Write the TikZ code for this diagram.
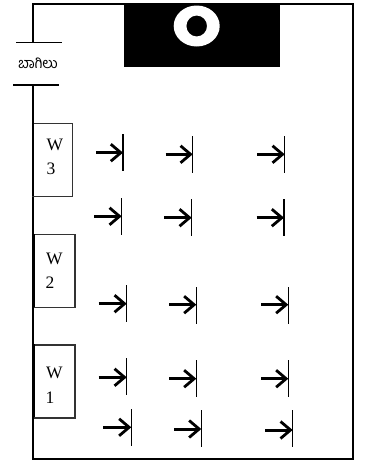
\documentclass[tikz,border=0pt]{standalone}
\usepackage{fontspec}
\setmainfont{Liberation Serif}
\newfontfamily\kannadafont[Script=Kannada]{Hind Mysuru}
\usetikzlibrary{arrows.meta}
\tikzset{
  wall/.style={line width=1.8pt,draw=black},
  doorline/.style={line width=1.6pt,draw=black},
  windowbox/.style={draw=black!80,line width=1.3pt,fill=white,inner sep=0pt,anchor=north west,minimum height=73pt},
  wlabel/.style={font=\fontsize{17.5}{17.5}\selectfont,inner sep=0pt},
  seatbar/.style={line width=1.5pt,draw=black},
  seatarrow/.style={line width=3pt,draw=black,-{Straight Barb[length=10pt,width=17pt,line width=2.8pt]}},
}
\newcommand{\seat}[5]{% name, start x, bar x, arrow y, bar top y
  \coordinate (#1s) at (#2,#4);
  \coordinate (#1t) at (#3,#4);
  \coordinate (#1a) at (#3,#5);
  \coordinate (#1b) at (#3,#5+36.5);
  \draw[seatarrow] (#1s) -- (#1t);
  \draw[seatbar] (#1a) -- (#1b);
}
\begin{document}
\begin{tikzpicture}[x=1pt,y=-1pt]
\useasboundingbox (0,0) rectangle (368,463);
% outer walls
\coordinate (d1) at (33,42.5);
\coordinate (d2) at (33,85);
\coordinate (tl) at (33,3.7);
\coordinate (tr) at (352.7,3.7);
\coordinate (br) at (352.7,459.3);
\coordinate (bl) at (33,459.3);
\draw[wall] (d1) -- (tl) -- (tr) -- (br) -- (bl) -- (d2);
% door
\coordinate (da) at (16,42.5);
\coordinate (db) at (62,42.5);
\coordinate (dc) at (13.3,85);
\coordinate (dd) at (59,85);
\draw[doorline] (da) -- (db);
\draw[doorline] (dc) -- (dd);
\node[inner sep=0pt,font=\kannadafont\fontsize{14.5}{14.5}\selectfont] (door) at (38,63) {ಬಾಗಿಲು};
% stage
\fill[black] (124,3) rectangle (280,67);
\fill[white,even odd rule] (196.7,26) ellipse [x radius=23,y radius=20.5] (196.7,26) ellipse [x radius=10.3,y radius=10.5];
% windows
\node[windowbox,minimum width=40pt] (w3) at (32,123) {};
\node[windowbox,minimum width=40.3pt] (w2) at (34,234) {};
\node[windowbox,minimum width=40.3pt] (w1) at (34,344.3) {};
\draw[line width=2pt] (33,123) -- (33,196);
\draw[line width=2.6pt] (33.7,234) -- (33.7,307);
\draw[line width=2.6pt] (33.7,344.3) -- (33.7,417.3);
\node[wlabel] (w3a) at (55,145) {W};
\node[wlabel] (w3b) at (51,168.5) {3};
\node[wlabel] (w2a) at (54.3,259) {W};
\node[wlabel] (w2b) at (50,283) {2};
\node[wlabel] (w1a) at (54.3,373) {W};
\node[wlabel] (w1b) at (50,398) {1};
% seats
\seat{a1}{96}{123}{152.7}{134.3}
\seat{a2}{165.7}{192.7}{154.3}{136}
\seat{a3}{257.3}{284.7}{154.3}{136}
\seat{b1}{94.3}{121.7}{216.3}{198}
\seat{b2}{164.3}{191.7}{217.7}{199.3}
\seat{b3}{256.7}{284}{217.7}{199.3}
\seat{c1}{98.7}{126.7}{303.7}{285}
\seat{c2}{169}{196.3}{304.7}{287}
\seat{c3}{261}{288.3}{304.7}{287}
\seat{e1}{98.7}{126.7}{377.3}{358.3}
\seat{e2}{169}{196.3}{378.7}{360}
\seat{e3}{261}{288.3}{378.7}{360}
\seat{f1}{103.3}{131.3}{427.3}{409}
\seat{f2}{174}{201.3}{429}{410}
\seat{f3}{265}{292.7}{430}{410}
\end{tikzpicture}
\end{document}
